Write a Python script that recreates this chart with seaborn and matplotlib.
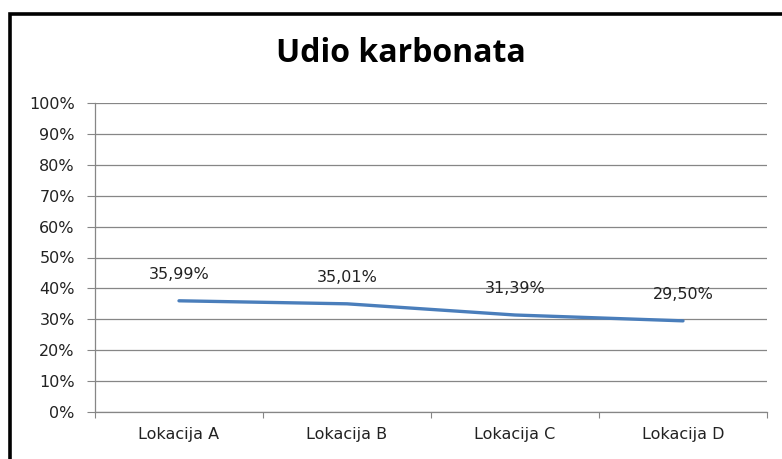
import matplotlib
matplotlib.use("Agg")
import matplotlib.pyplot as plt
import seaborn as sns
import pandas as pd
from matplotlib.patches import Rectangle
from matplotlib.ticker import FixedLocator, FuncFormatter

categories = ["Lokacija A", "Lokacija B", "Lokacija C", "Lokacija D"]
values = [35.99, 35.01, 31.39, 29.50]
value_labels = ["35,99%", "35,01%", "31,39%", "29,50%"]
title = "Udio karbonata"

sns.set_theme(style="white")
plt.rcParams['font.family'] = ['DejaVu Sans']

W, H = 782, 459
fig = plt.figure(figsize=(W / 100, H / 100), dpi=100)
fig.patch.set_facecolor("white")

left, right, top, bottom = 95, 767, 103, 412
ax = fig.add_axes([left / W, 1 - bottom / H, (right - left) / W, (bottom - top) / H])

df = pd.DataFrame({"x": range(len(categories)), "y": values})
sns.lineplot(data=df, x="x", y="y", ax=ax, color="#4A7EBB", linewidth=2.4, marker=None)

fs = 11.5
ax.set_xlim(-0.5, len(categories) - 0.5)
ax.set_ylim(0, 100)
ax.set_yticks(range(0, 101, 10))
ax.yaxis.set_major_formatter(FuncFormatter(lambda v, p: f"{int(v)}%"))
ax.set_xticks(range(len(categories)))
ax.set_xticklabels(categories)
ax.xaxis.set_minor_locator(FixedLocator([i - 0.5 for i in range(len(categories) + 1)]))
ax.tick_params(axis="x", which="major", length=0, pad=11, labelsize=fs, colors="#222222")
ax.tick_params(axis="x", which="minor", length=4, width=0.8, color="#868686", direction="out", bottom=True)
ax.tick_params(axis="y", length=5.5, width=0.8, color="#868686", direction="out", left=True,
               labelsize=fs, colors="#222222", pad=9)
ax.set_xlabel("")
ax.set_ylabel("")

ax.grid(axis="y", color="#868686", linewidth=0.9)
ax.set_axisbelow(True)
for s in ["top", "right"]:
    ax.spines[s].set_visible(False)
for s in ["left", "bottom"]:
    ax.spines[s].set_color("#868686")
    ax.spines[s].set_linewidth(0.9)

for i, (v, lab) in enumerate(zip(values, value_labels)):
    ax.annotate(lab, (i, v), xytext=(0, 19), textcoords="offset points",
                ha="center", va="center", fontsize=fs, color="#222222")

fig.text(401 / W, 1 - 53 / H, title, ha="center", va="center",
         fontsize=23, fontweight="bold", color="black", family=["Open Sans", "DejaVu Sans"])

fig.patches.append(Rectangle((10 / W, -0.05), 1.2, 1 - 14 / H + 0.05, transform=fig.transFigure,
                             fill=False, edgecolor="black", linewidth=2.6))

fig.savefig("out.png", dpi=100, facecolor="white")
